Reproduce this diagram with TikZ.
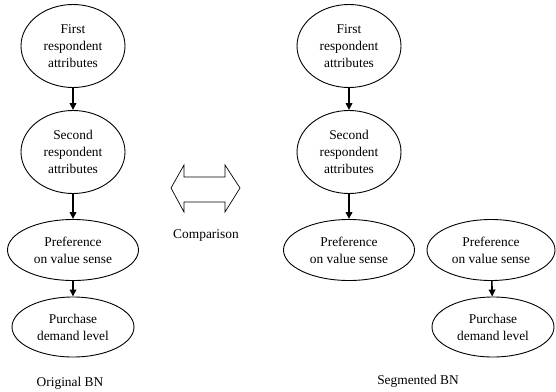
\documentclass[tikz,border=0pt]{standalone}
\usepackage{fontspec}
\setmainfont{Liberation Serif}
\usetikzlibrary{shapes.geometric,arrows.meta}
\begin{document}
\begin{tikzpicture}[x=1pt, y=-1pt,
    every node/.style={font=\fontsize{13.4}{17}\selectfont, align=center, inner sep=0pt},
    bnode/.style={ellipse, draw, line width=0.9pt},
    tall/.style={minimum width=104pt, minimum height=83pt},
    flat/.style={minimum width=131pt, minimum height=61pt},
    low/.style={minimum width=122pt, minimum height=60pt},
    link/.style={line width=1.6pt, -{Triangle[width=6.5pt,length=7pt]}, shorten >=0pt}]
    \useasboundingbox (0,0) rectangle (556,391);

    % Original BN
    \node[bnode, tall] (o1) at (73,46) {First\\respondent\\attributes};
    \node[bnode, tall] (o2) at (73,152) {Second\\respondent\\attributes};
    \node[bnode, flat] (o3) at (73,250) {Preference\\on value sense};
    \node[bnode, low] (o4) at (73,327) {Purchase\\demand level};
    \draw[link] (o1) -- (o2);
    \draw[link] (o2) -- (o3);
    \draw[link] (o3) -- (o4);
    \node (ol) at (70,383) {Original BN};

    % Arrow for comparison
    \draw[line width=0.7pt] (171,188) -- (184,165) -- (184,177) -- (225,177) -- (225,165)
        -- (240,188) -- (225,212) -- (225,202) -- (184,202) -- (184,212) -- cycle;
    \node (cp) at (206,235) {Comparison};

    % Segmented BN
    \node[bnode, tall] (s1) at (349,46) {First\\respondent\\attributes};
    \node[bnode, tall] (s2) at (349,152) {Second\\respondent\\attributes};
    \node[bnode, flat] (s3) at (349,250) {Preference\\on value sense};
    \draw[link] (s1) -- (s2);
    \draw[link] (s2) -- (s3);
    \node[bnode, flat, minimum width=128pt] (t1) at (491,250) {Preference\\on value sense};
    \node[bnode, low] (t2) at (493,327) {Purchase\\demand level};
    \draw[link] (t1) -- (t2);
    \node (sl) at (418,381) {Segmented BN};
\end{tikzpicture}
\end{document}
